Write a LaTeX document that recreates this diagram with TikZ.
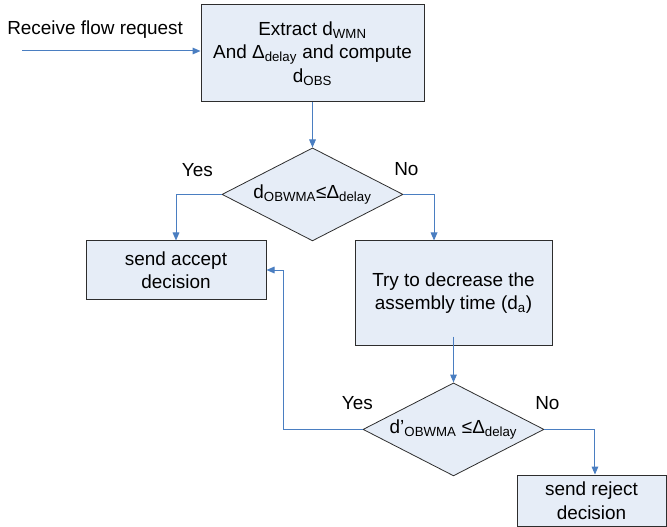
\documentclass[tikz,border=0pt]{standalone}
\usepackage{fontspec}
\setmainfont{Liberation Sans}
\usetikzlibrary{positioning, arrows.meta, shapes.geometric}
\usepackage{xcolor}
\definecolor{boxfill}{RGB}{230,237,247}
\definecolor{flowblue}{RGB}{74,126,193}
\definecolor{boxline}{RGB}{45,45,45}

\begin{document}
\begin{tikzpicture}[x=0.75pt, y=-0.75pt,
    every node/.style={font=\fontsize{14.2}{17.6}\selectfont},
    stepbox/.style={rectangle, draw=boxline, fill=boxfill, line width=0.75pt, align=center, inner sep=0pt},
    test/.style={diamond, draw=boxline, fill=boxfill, line width=0.6pt, aspect=1.95, inner sep=0pt,
        minimum width=135.75pt, minimum height=69.75pt},
    flow/.style={draw=flowblue, line width=0.75pt, -{Triangle[length=6pt, width=5pt]}},
    lbl/.style={inner sep=0pt}]
    \useasboundingbox (0,0) rectangle (667,527);
    % boxes and tests
    \node [stepbox, minimum width=167.25pt, minimum height=72.75pt] (extract) at (312.5,53.5)
        {Extract d\textsubscript{WMN}\\And Δ\textsubscript{delay} and compute\\d\textsubscript{OBS}};
    \node [test, below=33.75pt of extract] (check) {d\textsubscript{OBWMA}≤Δ\textsubscript{delay}};
    \node [stepbox, minimum width=135pt, minimum height=43.5pt] (accept) at (176,270) {send accept\\decision};
    \node [stepbox, minimum width=147.75pt, minimum height=78pt] (reduce) at (453.5,293)
        {Try to decrease the\\assembly time (d\textsubscript{a})};
    \node [test, below=27.75pt of reduce] (recheck) {d’\textsubscript{OBWMA} ≤Δ\textsubscript{delay}};
    \node [stepbox, minimum width=111.75pt, minimum height=38.25pt] (reject) at (591.5,500.5) {send reject\\decision};
    % labels
    \node [lbl, anchor=base west] (recv) at (7,35) {Receive flow request};
    \node [lbl, anchor=base east] (yes1) at (213,177) {Yes};
    \node [lbl, anchor=base west] (no1) at (394,176) {No};
    \node [lbl, anchor=base east] (yes2) at (373,409) {Yes};
    \node [lbl, anchor=base west] (no2) at (535,409) {No};
    \coordinate (in) at (22,51);
    % connectors
    \draw [flow] (in) -- (in -| extract.west);
    \draw [flow] (extract) -- (check);
    \draw [flow] (check.west) -| (accept.north);
    \draw [flow] (check.east) -| ([xshift=-14.6pt]reduce.north);
    \draw [flow] ([yshift=6.75pt]reduce.south) -- (recheck.north);
    \draw [flow] (recheck.west) -| ([xshift=12.75pt]accept.east) -- (accept.east);
    \draw [flow] (recheck.east) -| ([xshift=2.6pt]reject.north);
\end{tikzpicture}
\end{document}
